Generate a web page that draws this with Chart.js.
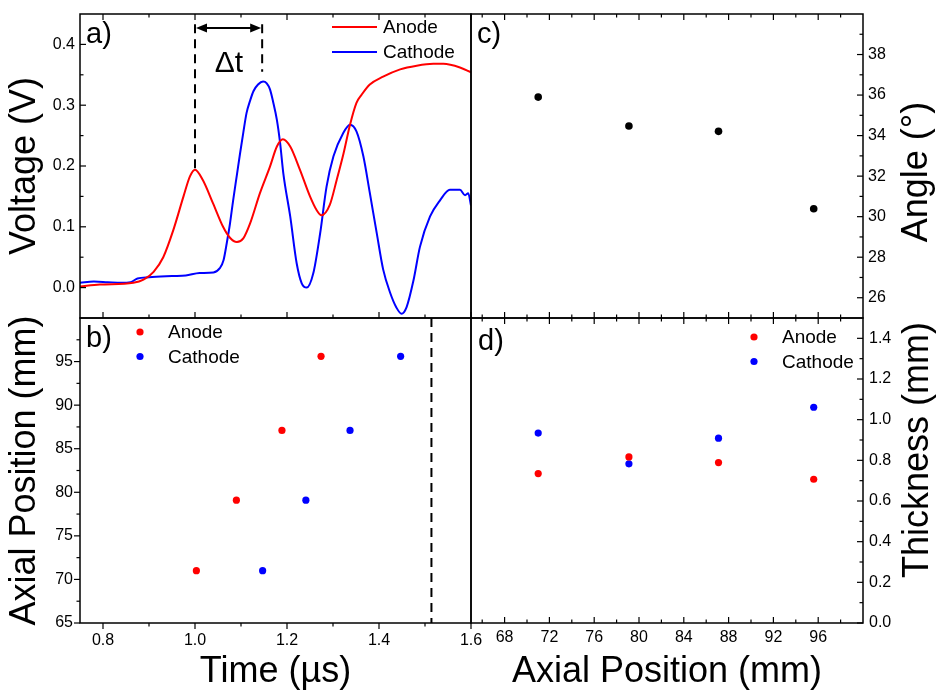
<!DOCTYPE html>
<html>
<head>
<meta charset="utf-8">
<script src="https://cdn.jsdelivr.net/npm/chart.js@4.4.1/dist/chart.umd.min.js"></script>
<style>
  html, body { margin: 0; background: #fff; }
  #wrap { position: relative; width: 936px; height: 690px; }
  #wrap canvas { position: absolute; left: 0; top: 0; }
</style>
</head>
<body>
<div id="wrap">
  <canvas id="pa" width="936" height="690"></canvas>
  <canvas id="pb" width="936" height="690"></canvas>
  <canvas id="pc" width="936" height="690"></canvas>
  <canvas id="pd" width="936" height="690"></canvas>
</div>
<script>
// a) voltage traces
const anodeTime = [0.75, 0.793, 0.866, 0.888, 0.910, 0.931, 0.953, 0.975, 0.989, 1.0, 1.017, 1.039, 1.061, 1.076, 1.091, 1.105, 1.120, 1.141, 1.163, 1.178, 1.191, 1.207, 1.228, 1.250, 1.264, 1.275, 1.293, 1.308, 1.323, 1.337, 1.351, 1.362, 1.380, 1.409, 1.446, 1.482, 1.518, 1.540, 1.576, 1.6];
const anodeVolt = [0.002, 0.005, 0.008, 0.013, 0.026, 0.050, 0.095, 0.150, 0.183, 0.194, 0.177, 0.139, 0.100, 0.082, 0.075, 0.081, 0.106, 0.155, 0.199, 0.232, 0.244, 0.232, 0.194, 0.150, 0.128, 0.119, 0.136, 0.177, 0.221, 0.268, 0.304, 0.317, 0.334, 0.347, 0.359, 0.365, 0.368, 0.368, 0.362, 0.354];
const cathodeTime = [0.75, 0.78, 0.81, 0.84, 0.86, 0.875, 0.90, 0.95, 0.98, 1.01, 1.04, 1.054, 1.062, 1.069, 1.076, 1.083, 1.091, 1.098, 1.105, 1.112, 1.120, 1.127, 1.137, 1.148, 1.156, 1.163, 1.170, 1.178, 1.185, 1.192, 1.207, 1.221, 1.232, 1.243, 1.257, 1.272, 1.286, 1.301, 1.322, 1.337, 1.351, 1.366, 1.380, 1.395, 1.409, 1.424, 1.438, 1.449, 1.460, 1.475, 1.489, 1.511, 1.533, 1.554, 1.576, 1.587, 1.594, 1.6];
const cathodeVolt = [0.008, 0.010, 0.009, 0.008, 0.009, 0.015, 0.017, 0.019, 0.020, 0.024, 0.025, 0.032, 0.045, 0.073, 0.105, 0.144, 0.185, 0.221, 0.255, 0.287, 0.308, 0.323, 0.334, 0.339, 0.336, 0.326, 0.305, 0.276, 0.238, 0.188, 0.117, 0.040, 0.007, 0.0, 0.023, 0.089, 0.166, 0.216, 0.254, 0.268, 0.257, 0.216, 0.156, 0.090, 0.030, -0.008, -0.033, -0.043, -0.032, 0.012, 0.067, 0.117, 0.144, 0.161, 0.161, 0.152, 0.155, 0.135];
const dtTimes = [1.0, 1.146];
const dtTop = 0.433;
const dtBottoms = [0.194, 0.355];
const dtArrowVolt = 0.427;

// b) arrival time vs axial position
const axialPos = [71, 79.1, 87.1, 95.6];
const anodeArrival = [1.003, 1.090, 1.189, 1.274];
const cathodeArrival = [1.147, 1.241, 1.337, 1.447];
const cutoffTime = 1.514;

// c) angle
const angleDeg = [35.9, 34.47, 34.21, 30.39];

// d) thickness
const anodeThick = [0.735, 0.817, 0.789, 0.707];
const cathodeThick = [0.934, 0.783, 0.909, 1.061];

// tick values
const timeTicks = [0.8, 1.0, 1.2, 1.4, 1.6];
const timeMinor = [0.9, 1.1, 1.3, 1.5];
const voltTicks = [0, 0.1, 0.2, 0.3, 0.4];
const voltMinor = [0.05, 0.15, 0.25, 0.35];
const posTicks = [65, 70, 75, 80, 85, 90, 95];
const posMinor = [67.5, 72.5, 77.5, 82.5, 87.5, 92.5, 97.5];
const axialTicks = [68, 72, 76, 80, 84, 88, 92, 96];
const axialMinor = [66, 70, 74, 78, 82, 86, 90, 94, 98];
const angleTicks = [26, 28, 30, 32, 34, 36, 38];
const angleMinor = [27, 29, 31, 33, 35, 37, 39];
const thickTicks = [0, 0.2, 0.4, 0.6, 0.8, 1.0, 1.2, 1.4];
const thickMinor = [0.1, 0.3, 0.5, 0.7, 0.9, 1.1, 1.3];

const RED = "#ff0000";
const BLUE = "#0000ff";
const FONT = "'Liberation Sans', Arial, sans-serif";
Chart.defaults.font.family = FONT;
Chart.defaults.color = "#000";

const pts = (xs, ys) => xs.map((x, i) => ({ x, y: ys[i] }));
const fix1 = (v) => Number(v).toFixed(1);
const noPad = (s) => { s.paddingTop = s.paddingBottom = s.paddingLeft = s.paddingRight = 0; };

function axis(pos, min, max, ticks, o) {
  const vertical = pos === "left" || pos === "right";
  return {
    type: "linear",
    position: pos,
    min, max,
    display: o.display !== false,
    afterBuildTicks: (s) => { s.ticks = ticks.map((v) => ({ value: v })); },
    grid: { display: false, drawTicks: false },
    border: { display: false },
    ticks: { display: !!o.labels, font: { size: 16 }, padding: o.pad || 0, autoSkip: false, maxRotation: 0, callback: o.fmt },
    title: o.title
      ? { display: true, text: o.title, font: { size: 36, lineHeight: 1 }, padding: vertical ? { top: 7, bottom: 0 } : { top: 0, bottom: 0 } }
      : { display: false },
    afterFit: (s) => {
      if (vertical) s.width = o.size; else s.height = o.size;
      noPad(s);
    },
  };
}

// frame, inner/outer ticks, legends, labels
const decor = {
  id: "decor",
  afterDraw(chart, args, o) {
    const { ctx, chartArea: a } = chart;
    ctx.save();
    ctx.strokeStyle = "#000";
    ctx.lineWidth = 1.2;
    (o.ticks || []).forEach((t) => {
      const s = chart.scales[t.scale];
      const sg = t.dir === "in" ? 1 : -1;
      [[t.major, 6], [t.minor, 3.5]].forEach(([vals, len]) => vals.forEach((v) => {
        const p = s.getPixelForValue(v);
        ctx.beginPath();
        if (t.edge === "top") { ctx.moveTo(p, a.top); ctx.lineTo(p, a.top + sg * len); }
        if (t.edge === "bottom") { ctx.moveTo(p, a.bottom); ctx.lineTo(p, a.bottom - sg * len); }
        if (t.edge === "left") { ctx.moveTo(a.left, p); ctx.lineTo(a.left + sg * len, p); }
        if (t.edge === "right") { ctx.moveTo(a.right, p); ctx.lineTo(a.right - sg * len, p); }
        ctx.stroke();
      }));
    });
    ctx.lineWidth = 1.5;
    ctx.strokeRect(a.left, a.top, a.width, a.height);

    if (o.arrow) {
      const xs = chart.scales.x, ys = chart.scales.y;
      const x1 = xs.getPixelForValue(o.arrow.t[0]) + 1, x2 = xs.getPixelForValue(o.arrow.t[1]) - 1;
      const y = ys.getPixelForValue(o.arrow.v);
      ctx.lineWidth = 2;
      ctx.beginPath(); ctx.moveTo(x1 + 8, y); ctx.lineTo(x2 - 8, y); ctx.stroke();
      ctx.fillStyle = "#000";
      ctx.beginPath(); ctx.moveTo(x1, y); ctx.lineTo(x1 + 11, y - 4.5); ctx.lineTo(x1 + 11, y + 4.5); ctx.closePath(); ctx.fill();
      ctx.beginPath(); ctx.moveTo(x2, y); ctx.lineTo(x2 - 11, y - 4.5); ctx.lineTo(x2 - 11, y + 4.5); ctx.closePath(); ctx.fill();
    }

    if (o.legend) {
      const L = o.legend;
      ctx.font = "19px " + FONT;
      ctx.textBaseline = "middle";
      ctx.textAlign = "left";
      L.items.forEach((it, i) => {
        const y = L.y + i * L.dy;
        ctx.strokeStyle = it.color;
        ctx.fillStyle = it.color;
        if (L.kind === "line") {
          ctx.lineWidth = 2;
          ctx.beginPath(); ctx.moveTo(L.x1, y); ctx.lineTo(L.x2, y); ctx.stroke();
        } else {
          ctx.beginPath(); ctx.arc(L.x1, y, 3.6, 0, Math.PI * 2); ctx.fill();
        }
        ctx.fillStyle = "#000";
        ctx.fillText(it.label, L.tx, y + 1);
      });
    }

    (o.texts || []).forEach((t) => {
      ctx.save();
      ctx.fillStyle = "#000";
      ctx.font = t.size + "px " + FONT;
      ctx.textAlign = t.align || "left";
      ctx.textBaseline = t.base || "alphabetic";
      ctx.translate(t.x, t.y);
      if (t.rot) ctx.rotate(t.rot);
      ctx.fillText(t.text, 0, 0);
      ctx.restore();
    });
    ctx.restore();
  },
};

function baseOptions(padding, scales, decorOpts) {
  return {
    responsive: false,
    animation: false,
    devicePixelRatio: 1,
    layout: { padding },
    scales,
    plugins: { legend: { display: false }, tooltip: { enabled: false }, decor: decorOpts },
    elements: { point: { radius: 3.6, borderWidth: 0, hoverRadius: 3.6 } },
    events: [],
  };
}

const dashed = (data) => ({
  data, showLine: true, borderColor: "#000", borderWidth: 2, borderDash: [9, 6], pointRadius: 0, fill: false,
});

// panel a
new Chart(document.getElementById("pa"), {
  type: "scatter",
  data: {
    datasets: [
      { data: pts(anodeTime, anodeVolt), showLine: true, borderColor: RED, borderWidth: 2, pointRadius: 0, cubicInterpolationMode: "monotone" },
      { data: pts(cathodeTime, cathodeVolt), showLine: true, borderColor: BLUE, borderWidth: 2, pointRadius: 0, cubicInterpolationMode: "monotone" },
      dashed([{ x: dtTimes[0], y: dtTop }, { x: dtTimes[0], y: dtBottoms[0] }]),
      dashed([{ x: dtTimes[1], y: dtTop }, { x: dtTimes[1], y: dtBottoms[1] }]),
    ],
  },
  options: baseOptions(
    { left: 0, top: 14, right: 465, bottom: 372 },
    {
      x: axis("bottom", 0.75, 1.6, timeTicks, { display: false, size: 0 }),
      y: axis("left", -0.05, 0.45, voltTicks, { labels: true, pad: 5, fmt: fix1, title: "Voltage (V)", size: 80 }),
    },
    {
      ticks: [
        { scale: "x", edge: "top", dir: "in", major: timeTicks, minor: timeMinor },
        { scale: "x", edge: "bottom", dir: "in", major: timeTicks, minor: timeMinor },
        { scale: "y", edge: "left", dir: "in", major: voltTicks, minor: voltMinor },
      ],
      arrow: { t: dtTimes, v: dtArrowVolt },
      legend: { kind: "line", x1: 332, x2: 377, tx: 383, y: 27, dy: 25, items: [{ label: "Anode", color: RED }, { label: "Cathode", color: BLUE }] },
      texts: [
        { text: "a)", x: 86, y: 43, size: 29 },
        { text: "\u0394t", x: 229, y: 72, size: 30, align: "center" },
      ],
    }
  ),
  plugins: [decor],
});

// panel b
new Chart(document.getElementById("pb"), {
  type: "scatter",
  data: {
    datasets: [
      { data: pts(anodeArrival, axialPos), backgroundColor: RED },
      { data: pts(cathodeArrival, axialPos), backgroundColor: BLUE },
      dashed([{ x: cutoffTime, y: 100 }, { x: cutoffTime, y: 65 }]),
    ],
  },
  options: baseOptions(
    { left: 0, top: 318, right: 465, bottom: 0 },
    {
      x: axis("bottom", 0.75, 1.6, timeTicks, { labels: true, pad: 8, fmt: fix1, title: "Time (\u00b5s)", size: 67 }),
      y: axis("left", 65, 100, posTicks, { labels: true, pad: 7, title: "Axial Position (mm)", size: 80 }),
    },
    {
      ticks: [
        { scale: "x", edge: "bottom", dir: "out", major: timeTicks, minor: timeMinor },
        { scale: "y", edge: "left", dir: "out", major: posTicks, minor: posMinor },
      ],
      legend: { kind: "dot", x1: 140, tx: 168, y: 332, dy: 24.5, items: [{ label: "Anode", color: RED }, { label: "Cathode", color: BLUE }] },
      texts: [{ text: "b)", x: 86, y: 347, size: 29 }],
    }
  ),
  plugins: [decor],
});

// panel c
new Chart(document.getElementById("pc"), {
  type: "scatter",
  data: { datasets: [{ data: pts(axialPos, angleDeg), backgroundColor: "#000", pointRadius: 3.8 }] },
  options: baseOptions(
    { left: 471, top: 14, right: 0, bottom: 372 },
    {
      x: axis("bottom", 65, 100, axialTicks, { display: false, size: 0 }),
      y: axis("right", 25, 40, angleTicks, { labels: true, pad: 5, size: 73 }),
    },
    {
      ticks: [
        { scale: "x", edge: "top", dir: "in", major: axialTicks, minor: axialMinor },
        { scale: "x", edge: "bottom", dir: "in", major: axialTicks, minor: axialMinor },
        { scale: "y", edge: "right", dir: "in", major: angleTicks, minor: angleMinor },
      ],
      texts: [
        { text: "c)", x: 477, y: 43, size: 29 },
        { text: "Angle (\u00b0)", x: 917, y: 172, size: 36, align: "center", base: "middle", rot: -Math.PI / 2 },
      ],
    }
  ),
  plugins: [decor],
});

// panel d
new Chart(document.getElementById("pd"), {
  type: "scatter",
  data: {
    datasets: [
      { data: pts(axialPos, anodeThick), backgroundColor: RED },
      { data: pts(axialPos, cathodeThick), backgroundColor: BLUE },
    ],
  },
  options: baseOptions(
    { left: 471, top: 318, right: 0, bottom: 0 },
    {
      x: axis("bottom", 65, 100, axialTicks, { labels: true, pad: 5, title: "Axial Position (mm)", size: 67 }),
      y: axis("right", 0, 1.5, thickTicks, { labels: true, pad: 6, fmt: fix1, size: 73 }),
    },
    {
      ticks: [
        { scale: "x", edge: "top", dir: "in", major: axialTicks, minor: axialMinor },
        { scale: "x", edge: "bottom", dir: "in", major: axialTicks, minor: axialMinor },
        { scale: "y", edge: "right", dir: "in", major: thickTicks, minor: thickMinor },
      ],
      legend: { kind: "dot", x1: 754, tx: 782, y: 337, dy: 24.5, items: [{ label: "Anode", color: RED }, { label: "Cathode", color: BLUE }] },
      texts: [
        { text: "d)", x: 478, y: 350, size: 29 },
        { text: "Thickness (mm)", x: 918, y: 450, size: 36, align: "center", base: "middle", rot: -Math.PI / 2 },
      ],
    }
  ),
  plugins: [decor],
});
</script>
</body>
</html>
